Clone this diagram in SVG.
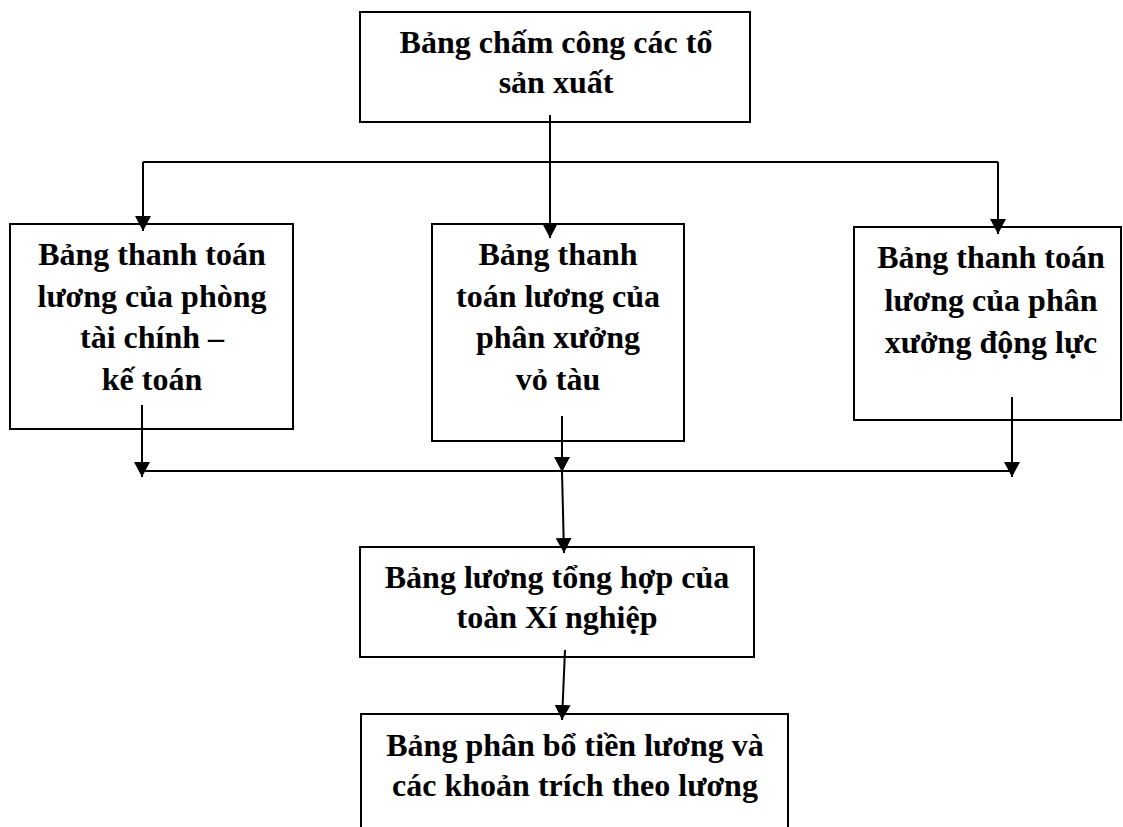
<svg xmlns="http://www.w3.org/2000/svg" width="1123" height="827" viewBox="0 0 1123 827">
  <defs>
    <marker id="arrow" markerUnits="userSpaceOnUse" markerWidth="15" markerHeight="16" refX="15" refY="8" orient="auto">
      <path d="M0,0 L15,8 L0,16 z" fill="#000"/>
    </marker>
    <style>
      .box { fill: #fff; stroke: #000; stroke-width: 2; }
      .lbl { font-family: "Liberation Serif", "Times New Roman", serif; font-weight: bold; font-size: 32px; fill: #000; text-anchor: middle; }
      .wire { fill: none; stroke: #000; stroke-width: 2; }
      .arr { fill: none; stroke: #000; stroke-width: 2; marker-end: url(#arrow); }
    </style>
  </defs>
  <rect width="1123" height="827" fill="#fff"/>

  <!-- Nodes -->
  <g id="bang-cham-cong">
    <rect class="box" x="360" y="12" width="390" height="110"/>
    <text class="lbl" x="556" y="53">Bảng chấm công các tổ</text>
    <text class="lbl" x="556" y="93">sản xuất</text>
  </g>

  <g id="tt-phong-tckt">
    <rect class="box" x="10" y="224" width="283" height="205"/>
    <text class="lbl" x="152" y="265">Bảng thanh toán</text>
    <text class="lbl" x="152" y="307">lương của phòng</text>
    <text class="lbl" x="152" y="348">tài chính –</text>
    <text class="lbl" x="152" y="390">kế toán</text>
  </g>

  <g id="tt-px-vo-tau">
    <rect class="box" x="432" y="224" width="252" height="217"/>
    <text class="lbl" x="558" y="265">Bảng thanh</text>
    <text class="lbl" x="558" y="307">toán lương của</text>
    <text class="lbl" x="558" y="348">phân xưởng</text>
    <text class="lbl" x="558" y="390">vỏ tàu</text>
  </g>

  <g id="tt-px-dong-luc">
    <rect class="box" x="854" y="227" width="267" height="193"/>
    <text class="lbl" x="991" y="268">Bảng thanh toán</text>
    <text class="lbl" x="991" y="311">lương của phân</text>
    <text class="lbl" x="991" y="353">xưởng động lực</text>
  </g>

  <g id="bang-luong-tong-hop">
    <rect class="box" x="360" y="547" width="394" height="110"/>
    <text class="lbl" x="557" y="588">Bảng lương tổng hợp của</text>
    <text class="lbl" x="557" y="628">toàn Xí nghiệp</text>
  </g>

  <g id="bang-phan-bo">
    <rect class="box" x="361" y="714" width="427" height="130"/>
    <text class="lbl" x="575" y="756">Bảng phân bổ tiền lương và</text>
    <text class="lbl" x="575" y="796">các khoản trích theo lương</text>
  </g>

  <!-- Connectors -->
  <g id="connectors">
    <path class="wire" d="M143,162 H998"/>
    <path class="arr" d="M550,115 V238"/>
    <path class="arr" d="M143,162 V231"/>
    <path class="arr" d="M998,162 V234"/>
    <path class="wire" d="M145,471 H1010"/>
    <path class="arr" d="M142,405 V477"/>
    <path class="arr" d="M562,416 V472"/>
    <path class="arr" d="M1012,397 V477"/>
    <path class="arr" d="M562,472 L564,553"/>
    <path class="arr" d="M565,650 L562,720"/>
  </g>
</svg>
